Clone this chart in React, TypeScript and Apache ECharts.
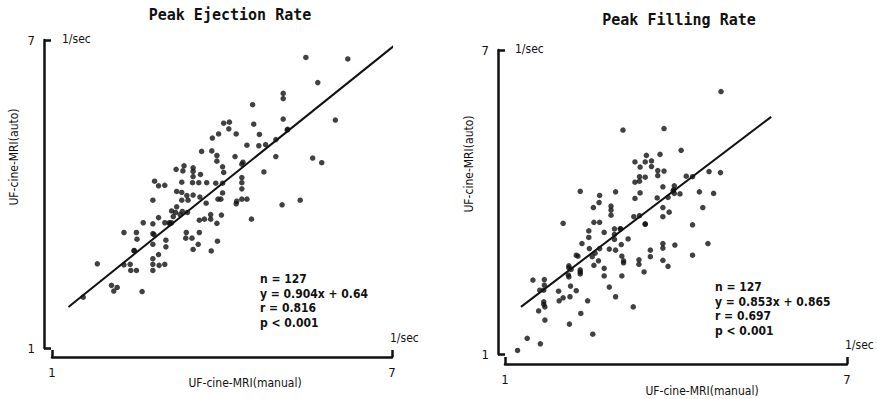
import React, { useEffect, useRef } from "react";
import * as echarts from "echarts";

const axisRange = [1, 7];
const axisTicks = [1, 7];
const titles = ["Peak Ejection Rate", "Peak Filling Rate"];
const xAxisTitle = "UF-cine-MRI(manual)";
const yAxisTitle = "UF-cine-MRI(auto)";
const unitLabel = "1/sec";
const ejectionStats = ["n = 127", "y = 0.904x + 0.64", "r = 0.816", "p < 0.001"];
const fillingStats = ["n = 127", "y = 0.853x + 0.865", "r = 0.697", "p < 0.001"];

const ejectionFit: [number, number][] = [[1.29, 1.8], [7.05, 6.9]];
const fillingFit: [number, number][] = [[1.28, 1.93], [5.67, 5.68]];

const ejectionPoints: [number, number][] = [
  [5.48, 6.66], [6.22, 6.63], [5.69, 6.17], [5.08, 5.96], [5.08, 5.86], [4.54, 5.74],
  [6.0, 5.44], [5.08, 5.46], [4.03, 5.38], [4.13, 5.4], [4.56, 5.36], [4.12, 5.27],
  [3.94, 5.17], [3.83, 5.09], [4.25, 5.17], [4.66, 5.16], [5.16, 5.26], [4.44, 4.95],
  [4.65, 4.94], [4.77, 4.96], [4.95, 5.06], [3.64, 4.83], [3.82, 4.84], [3.91, 4.75],
  [3.91, 4.64], [4.23, 4.73], [4.95, 4.73], [5.6, 4.7], [5.76, 4.61], [4.37, 4.62],
  [3.19, 4.48], [3.31, 4.45], [3.33, 4.55], [4.01, 4.53], [4.03, 4.42], [3.49, 4.51],
  [3.49, 4.44], [3.62, 4.38], [3.49, 4.34], [4.74, 4.43], [4.35, 4.32], [4.35, 4.22],
  [4.35, 4.1], [2.81, 4.25], [2.88, 4.16], [2.99, 4.17], [3.29, 4.23], [3.48, 4.22],
  [3.59, 4.22], [3.73, 4.22], [3.89, 4.21], [4.01, 4.21], [3.2, 4.05], [3.29, 4.03],
  [3.38, 3.97], [3.49, 3.98], [3.61, 3.94], [4.01, 4.02], [2.78, 3.88], [3.29, 3.88],
  [3.4, 3.88], [3.93, 3.9], [3.98, 3.9], [4.26, 3.86], [4.35, 3.9], [4.44, 3.9],
  [5.06, 3.79], [5.38, 3.88], [4.25, 3.81], [3.72, 3.82], [3.2, 3.75], [3.11, 3.67],
  [3.18, 3.64], [3.3, 3.66], [3.39, 3.64], [3.26, 3.6], [3.14, 3.56], [2.88, 3.54],
  [2.61, 3.44], [2.78, 3.42], [2.99, 3.44], [3.07, 3.44], [3.11, 3.44], [3.6, 3.49],
  [3.69, 3.51], [3.8, 3.51], [3.8, 3.6], [3.99, 3.59], [3.91, 3.43], [4.52, 3.51],
  [2.27, 3.25], [2.49, 3.25], [2.5, 3.12], [2.78, 3.23], [2.8, 3.21], [3.37, 3.25],
  [3.36, 3.14], [3.47, 3.14], [3.6, 3.25], [2.78, 3.02], [3.01, 3.1], [3.01, 2.97],
  [3.58, 3.02], [3.49, 2.92], [3.92, 3.08], [3.81, 2.89], [2.45, 2.9], [2.88, 2.82],
  [2.78, 2.74], [2.78, 2.63], [2.89, 2.61], [2.99, 2.63], [1.8, 2.64], [2.27, 2.62],
  [2.38, 2.63], [2.39, 2.51], [2.49, 2.51], [2.78, 2.51], [2.05, 2.22], [2.15, 2.18],
  [2.09, 2.11], [2.59, 2.1], [1.55, 1.99], [4.35, 4.58], [3.08, 3.42], [5.15, 5.25],
  [2.45, 2.89],
];

const fillingPoints: [number, number][] = [
  [4.79, 6.18], [3.07, 5.42], [3.79, 5.45], [4.09, 5.02], [3.48, 4.92], [3.72, 4.94],
  [3.28, 4.79], [3.46, 4.79], [3.57, 4.81], [3.37, 4.69], [3.57, 4.7], [3.36, 4.5],
  [3.46, 4.49], [3.28, 4.39], [3.36, 4.41], [3.68, 4.62], [3.79, 4.61], [3.68, 4.52],
  [4.18, 4.51], [4.29, 4.5], [4.58, 4.6], [4.78, 4.58], [3.77, 4.3], [3.97, 4.32],
  [3.95, 4.22], [3.97, 4.17], [4.07, 4.16], [3.86, 4.09], [2.32, 4.21], [2.66, 4.13],
  [2.94, 4.2], [3.37, 4.18], [4.41, 4.2], [4.66, 4.17], [3.28, 4.07], [3.67, 4.08],
  [2.65, 3.99], [2.55, 3.89], [2.86, 3.92], [2.86, 3.84], [2.86, 3.74], [3.26, 3.71],
  [3.36, 3.73], [3.77, 3.89], [3.77, 3.71], [3.88, 3.8], [4.47, 3.89], [2.02, 3.58],
  [2.56, 3.6], [2.66, 3.6], [3.46, 3.56], [4.29, 3.55], [2.47, 3.43], [2.47, 3.3],
  [2.74, 3.4], [2.92, 3.47], [2.92, 3.36], [3.03, 3.47], [2.92, 3.26], [3.16, 3.27],
  [2.35, 3.18], [2.48, 3.08], [2.66, 3.08], [2.83, 3.07], [2.94, 3.05], [3.04, 3.16],
  [2.25, 2.95], [2.28, 2.93], [2.58, 2.99], [2.53, 2.92], [2.64, 2.84], [2.56, 2.75],
  [3.05, 2.93], [3.08, 2.84], [3.08, 2.8], [3.55, 3.05], [3.55, 2.92], [3.77, 3.18],
  [3.77, 3.09], [3.98, 3.15], [3.77, 2.85], [3.86, 2.73], [3.35, 2.86], [3.35, 2.77],
  [3.44, 2.62], [4.29, 2.95], [4.56, 3.18], [2.12, 2.74], [2.16, 2.67], [2.11, 2.56],
  [2.12, 2.52], [2.32, 2.66], [2.32, 2.58], [2.74, 2.69], [2.74, 2.54], [3.05, 2.54],
  [1.49, 2.46], [1.69, 2.47], [1.69, 2.36], [1.61, 2.26], [1.68, 2.26], [2.15, 2.34],
  [2.25, 2.25], [1.94, 2.24], [2.02, 2.11], [2.14, 2.13], [2.83, 2.32], [2.45, 2.05],
  [2.94, 2.13], [1.68, 2.03], [1.68, 1.98], [1.7, 1.93], [1.59, 1.85], [1.95, 2.05],
  [2.33, 1.8], [3.25, 1.93], [1.7, 1.67], [2.13, 1.59], [2.54, 1.39], [1.39, 1.31],
  [1.62, 1.2], [1.22, 1.07], [3.96, 4.24], [2.12, 2.7], [3.46, 3.57], [3.02, 3.47],
  [2.32, 2.62],
];

const INK = "#111111";
const FONT = "'DejaVu Sans Condensed', 'Liberation Sans Narrow', 'DejaVu Sans', sans-serif";
const TITLE_FONT = "'DejaVu Sans Mono', monospace";

function makeAxes(gridIndex: number, xOffset: number, yOffset: number) {
  const common = {
    gridIndex,
    type: "value" as const,
    min: axisRange[0],
    max: axisRange[1],
    splitLine: { show: false },
    axisLine: { show: true, lineStyle: { color: INK, width: 2.5 } },
    axisTick: {
      show: true,
      inside: true,
      length: 7,
      customValues: axisTicks,
      lineStyle: { color: INK, width: 2.5 },
    },
  };
  return {
    x: {
      ...common,
      position: "bottom",
      offset: xOffset,
      axisLabel: {
        customValues: axisTicks,
        margin: 9,
        color: INK,
        fontSize: 13,
        fontFamily: FONT,
      },
    },
    y: {
      ...common,
      position: "left",
      offset: yOffset,
      axisLabel: {
        customValues: axisTicks,
        margin: 9,
        color: INK,
        fontSize: 13,
        fontFamily: FONT,
      },
    },
  };
}

function text(x: number, y: number, str: string, extra: any = {}) {
  return {
    type: "text",
    x,
    y,
    rotation: extra.rotation || 0,
    style: {
      text: str,
      fill: INK,
      fontSize: extra.fontSize || 11,
      fontFamily: extra.fontFamily || FONT,
      fontWeight: extra.fontWeight || "normal",
      align: extra.align || "left",
      verticalAlign: extra.verticalAlign || "middle",
    },
  };
}

export default function App() {
  const ref = useRef<HTMLDivElement>(null);

  useEffect(() => {
    if (!ref.current) return;
    const chart = echarts.init(ref.current, undefined, { renderer: "svg" });
    const a0 = makeAxes(0, 9, 8);
    const a1 = makeAxes(1, 10, 7);

    const statLines = (x: number, y0: number, lines: string[]) =>
      lines.map((s, i) =>
        text(x, y0 + i * 14.5, s, { fontSize: 12, fontWeight: "bold" })
      );

    chart.setOption({
      animation: false,
      backgroundColor: "#ffffff",
      grid: [
        { left: 52, top: 40, width: 340, height: 308 },
        { left: 505, top: 50, width: 342, height: 304 },
      ],
      xAxis: [a0.x, a1.x],
      yAxis: [a0.y, a1.y],
      series: [
        {
          type: "scatter",
          xAxisIndex: 0,
          yAxisIndex: 0,
          data: ejectionPoints,
          symbol: "circle",
          symbolSize: 5.5,
          itemStyle: { color: "#111111" },
        },
        {
          type: "line",
          xAxisIndex: 0,
          yAxisIndex: 0,
          data: ejectionFit,
          showSymbol: false,
          clip: false,
          lineStyle: { color: INK, width: 2 },
        },
        {
          type: "scatter",
          xAxisIndex: 1,
          yAxisIndex: 1,
          data: fillingPoints,
          symbol: "circle",
          symbolSize: 5.5,
          itemStyle: { color: "#111111" },
        },
        {
          type: "line",
          xAxisIndex: 1,
          yAxisIndex: 1,
          data: fillingFit,
          showSymbol: false,
          clip: false,
          lineStyle: { color: INK, width: 2 },
        },
      ],
      graphic: [
        text(230, 15, titles[0], { fontSize: 15, fontWeight: "bold", fontFamily: TITLE_FONT, align: "center" }),
        text(679, 20, titles[1], { fontSize: 15, fontWeight: "bold", fontFamily: TITLE_FONT, align: "center" }),
        text(62, 39, unitLabel, { fontSize: 12 }),
        text(390, 338, unitLabel, { fontSize: 12 }),
        text(515, 49, unitLabel, { fontSize: 12 }),
        text(845, 345, unitLabel, { fontSize: 12 }),
        text(14, 157, yAxisTitle, { rotation: Math.PI / 2, align: "center", fontSize: 12 }),
        text(469, 164, yAxisTitle, { rotation: Math.PI / 2, align: "center", fontSize: 12 }),
        text(245, 383, xAxisTitle, { align: "center", fontSize: 12 }),
        text(702, 391, xAxisTitle, { align: "center", fontSize: 12 }),
        ...statLines(260, 279, ejectionStats),
        ...statLines(715, 287, fillingStats),
      ],
    });
    return () => chart.dispose();
  }, []);

  return (
    <div
      ref={ref}
      style={{ position: "absolute", left: 0, top: 0, width: 877, height: 399 }}
    />
  );
}
